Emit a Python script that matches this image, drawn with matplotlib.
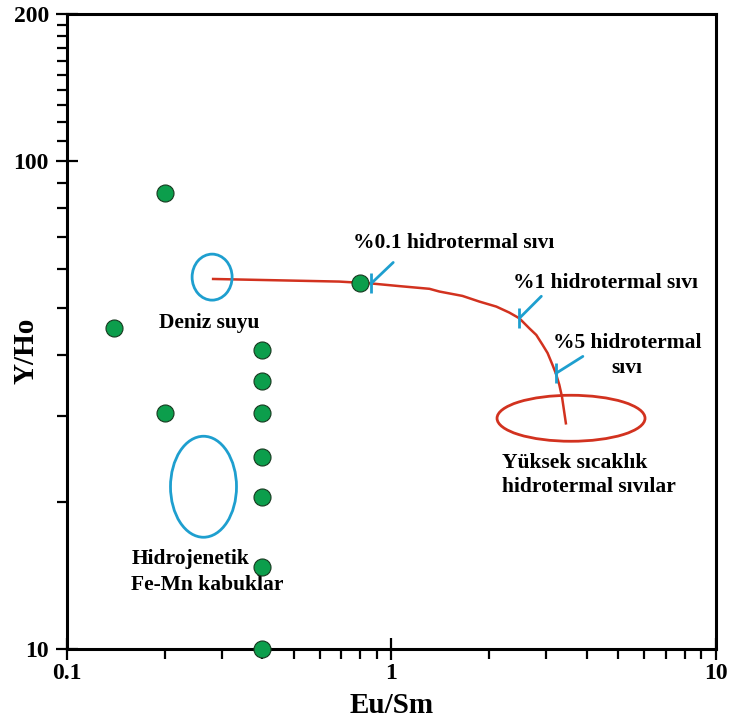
import numpy as np
import matplotlib.pyplot as plt
from matplotlib.patches import Ellipse
from matplotlib.ticker import FixedLocator, NullFormatter

plt.rcParams['font.family'] = ['Liberation Serif', 'DejaVu Serif']
plt.rcParams['font.weight'] = 'bold'

# sample points (Eu/Sm, Y/Ho)
eu_sm = [0.2, 0.14, 0.2, 0.4, 0.4, 0.4, 0.4, 0.4, 0.4, 0.4, 0.8]
y_ho = [86, 45.5, 30.5, 41, 35.4, 30.5, 24.7, 20.5, 14.7, 10, 56.2]

# mixing curve seawater -> high temperature hydrothermal fluid
mix_x = [0.282, 0.69, 0.866, 1.058, 1.309, 1.405, 1.654, 1.866, 2.104, 2.307, 2.477,
         2.659, 2.794, 2.921, 3.027, 3.135, 3.21, 3.289, 3.352, 3.447]
mix_y = [57.3, 56.6, 56.1, 55.4, 54.7, 54.0, 52.9, 51.5, 50.3, 48.9, 47.6,
         45.4, 44.0, 42.0, 40.4, 38.2, 36.7, 34.8, 32.9, 29.0]

# mixing percentage marks on the curve
mark_x = [0.866, 2.477, 3.21]
mark_y = [56.1, 47.6, 36.7]
mark_dir = [(22, 21), (22, 22), (27, 17)]

green = '#0c9e4c'
red = '#d2321f'
blue = '#1e9fcf'

fig = plt.figure(figsize=(7.30, 7.22), dpi=100)
ax = fig.add_axes([0.0918, 0.1011, 0.8890, 0.8795])
ax.set_xscale('log')
ax.set_yscale('log')
ax.set_xlim(0.1, 10)
ax.set_ylim(10, 200)

ax.xaxis.set_major_locator(FixedLocator([0.1, 1, 10]))
ax.xaxis.set_minor_locator(FixedLocator([0.2, 0.3, 0.4, 0.5, 0.6, 0.7, 0.8, 0.9,
                                         2, 3, 4, 5, 6, 7, 8, 9]))
ax.yaxis.set_major_locator(FixedLocator([10, 100, 200]))
ax.yaxis.set_minor_locator(FixedLocator([20, 30, 40, 50, 60, 70, 80, 90,
                                         110, 120, 130, 140, 150, 160, 170, 180, 190]))
ax.xaxis.set_minor_formatter(NullFormatter())
ax.yaxis.set_minor_formatter(NullFormatter())
ax.set_xticklabels(['0.1', '1', '10'])
ax.set_yticklabels(['10', '100', '200'])
ax.tick_params(which='major', direction='inout', length=16, width=1.6, labelsize=17, pad=2)
ax.tick_params(axis='y', which='major', pad=5)
ax.tick_params(which='minor', direction='out', length=7, width=1.6)
for s in ax.spines.values():
    s.set_linewidth(2.2)

ax.set_xlabel('Eu/Sm', fontsize=21, fontweight='bold', labelpad=6)
ax.set_ylabel('Y/Ho', fontsize=21, fontweight='bold', va='center')
ax.yaxis.set_label_coords(-0.063, 0.47)

ax.plot(mix_x, mix_y, color=red, lw=1.8, zorder=2)
ax.scatter(eu_sm, y_ho, s=150, color=green, edgecolor='#17381f', linewidth=0.8,
           zorder=4, clip_on=False)

for mx, my, (dx, dy) in zip(mark_x, mark_y, mark_dir):
    ax.plot([mx], [my], marker='|', markersize=14, mew=2, color=blue, zorder=5)
    ax.annotate('', xy=(mx, my), xytext=(dx, dy), textcoords='offset pixels',
                arrowprops=dict(arrowstyle='-', color=blue, lw=2,
                                shrinkA=0, shrinkB=0), zorder=5)


def to_axes(x, y):
    return ax.transAxes.inverted().transform(ax.transData.transform((x, y)))


# ellipse centres in data units, sizes in pixels
ell_centers = [(0.280, 57.8), (0.2634, 21.5), (3.575, 29.7)]
ell_sizes = [(40, 46), (66, 101), (148, 46)]
ell_colors = [blue, blue, red]
for (cx, cy), (w, h), c in zip(ell_centers, ell_sizes, ell_colors):
    ax.add_patch(Ellipse(to_axes(cx, cy), w / 649, h / 635, transform=ax.transAxes,
                         fill=False, edgecolor=c, lw=2, zorder=3))

fs = 15.5
ax.text(0.192, 46.6, 'Deniz suyu', fontsize=fs, ha='left', va='center')
ax.text(0.158, 14.4, 'Hidrojenetik\nFe-Mn kabuklar', fontsize=fs, ha='left', va='center',
        linespacing=1.4)
ax.text(0.759, 67.9, '%0.1 hidrotermal sıvı', fontsize=fs, ha='left', va='center')
ax.text(2.37, 56.2, '%1 hidrotermal sıvı', fontsize=fs, ha='left', va='center')
ax.text(5.32, 39.9, '%5 hidrotermal\nsıvı', fontsize=fs, ha='center', va='center',
        linespacing=1.3)
ax.text(2.196, 22.7, 'Yüksek sıcaklık\nhidrotermal sıvılar', fontsize=fs, ha='left',
        va='center', linespacing=1.25)

fig.savefig('out.png', dpi=100)
